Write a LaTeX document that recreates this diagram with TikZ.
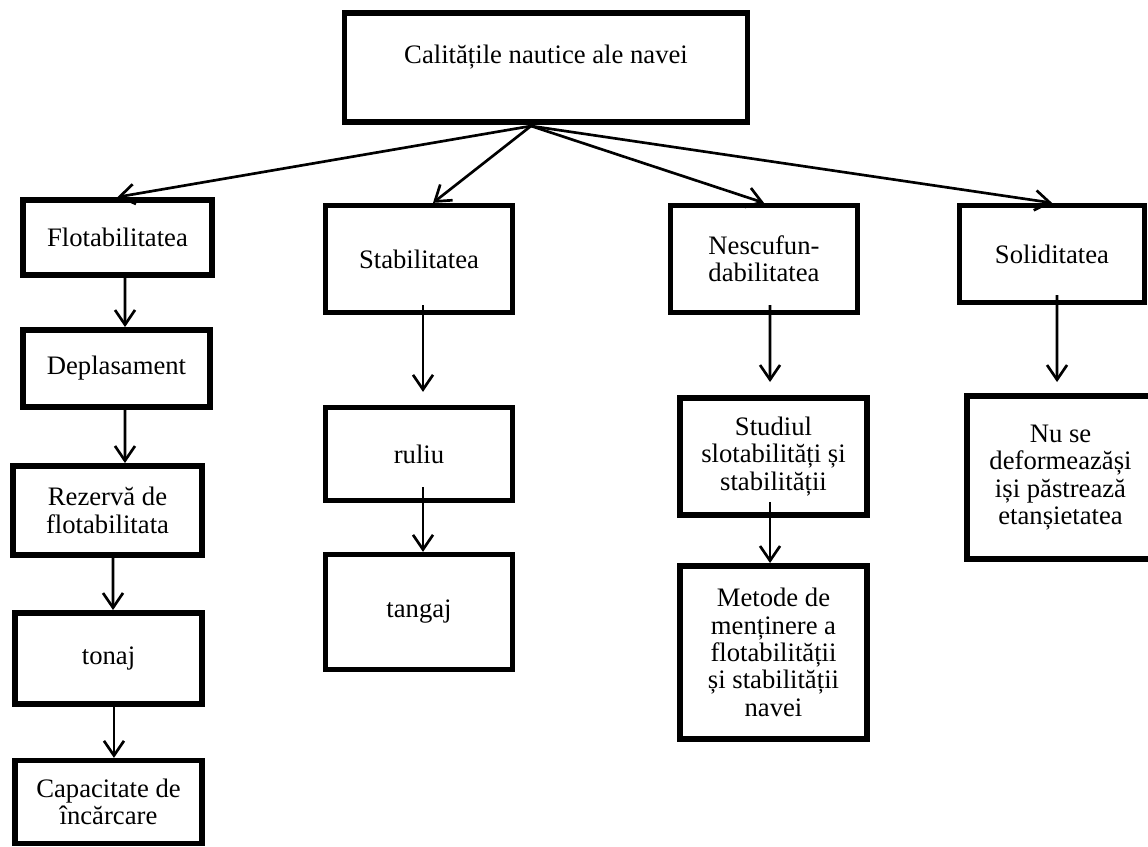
\documentclass[tikz,border=0pt]{standalone}
\usepackage{fontspec}
\setmainfont{Liberation Serif}
\usetikzlibrary{arrows.meta}
\begin{document}
\begin{tikzpicture}[x=0.75pt,y=-0.75pt,
  box/.style={draw=black,line width=4.2pt,align=center,inner sep=0pt,
    font=\fontsize{20}{20.5}\selectfont},
  arr/.style={draw=black,line width=2pt,-{Straight Barb[length=11pt,width=15pt,line width=2pt]}}]
\useasboundingbox (0,0) rectangle (1148,846);
\fill[white] (0,0) rectangle (1148,846);
% nodes
\node[box,minimum width=302pt,minimum height=82pt] (top) at (546,67.5) {Calitățile nautice ale navei\\\mbox{}};
\node[box,minimum width=142pt,minimum height=56.5pt] (flot) at (117.5,237.5) {Flotabilitatea};
\node[box,minimum width=140.5pt,minimum height=58pt] (depl) at (116.5,368.5) {Deplasament};
\node[box,minimum width=142pt,minimum height=67pt] (rez) at (107.5,510.5) {Rezervă de\\flotabilitata};
\node[box,minimum width=140.5pt,minimum height=68.5pt] (tonaj) at (108.5,658.5) {tonaj};
\node[box,minimum width=140.5pt,minimum height=62pt] (cap) at (108.5,802) {Capacitate de\\încărcare};
\node[box,minimum width=140pt,minimum height=80pt] (stab) at (419,259) {Stabilitatea};
\node[box,minimum width=140pt,minimum height=69.5pt] (ruliu) at (419,454) {ruliu};
\node[box,minimum width=140pt,minimum height=86pt] (tangaj) at (419,612) {tangaj};
\node[box,minimum width=140pt,minimum height=80pt] (nesc) at (764,259) {Nescufun-\\dabilitatea};
\node[box,minimum width=140.5pt,minimum height=88pt] (stud) at (773.5,456.5) {Studiul\\slotabilități și\\stabilității};
\node[box,minimum width=140.5pt,minimum height=130pt] (met) at (773.5,652.5) {Metode de\\menținere a\\flotabilității\\și stabilității\\navei};
\node[box,minimum width=138.5pt,minimum height=72.5pt] (sol) at (1052,254) {Soliditatea};
\node[box,minimum width=140pt,minimum height=122.5pt] (nu) at (1060.5,477.5) {Nu se\\deformeazăși\\iși păstrează\\etanșietatea};
% connectors
\coordinate (hub) at (531,126);
\draw[arr] (hub) -- (flot.north);
\draw[arr] (hub) -- ([xshift=10.5pt]stab.north);
\draw[arr] (hub) -- (nesc.north);
\draw[arr] (hub) -- (sol.north);
\draw[arr] ([xshift=5.6pt]flot.south) -- ([xshift=6.4pt]depl.north);
\draw[arr] ([xshift=6.4pt]depl.south) -- ([xshift=13.1pt]rez.north);
\draw[arr] ([xshift=4.1pt]rez.south) -- ([xshift=3.4pt]tonaj.north);
\draw[arr] ([xshift=4.1pt]tonaj.south) -- ([xshift=4.1pt]cap.north);
\draw[arr,shorten >=9.75pt] ([shift={(3pt,7.5pt)}]stab.south) -- ([xshift=3pt]ruliu.north);
\draw[arr] ([shift={(3pt,12pt)}]ruliu.south) -- ([xshift=3pt]tangaj.north);
\draw[arr,shorten >=9.75pt] ([shift={(4.5pt,7.5pt)}]nesc.south) -- ([xshift=-2.6pt]stud.north);
\draw[arr] ([shift={(-2.6pt,12pt)}]stud.south) -- ([xshift=-2.6pt]met.north);
\draw[arr,shorten >=8.25pt] ([shift={(3.75pt,7.5pt)}]sol.south) -- ([xshift=-2.6pt]nu.north);
\end{tikzpicture}
\end{document}
